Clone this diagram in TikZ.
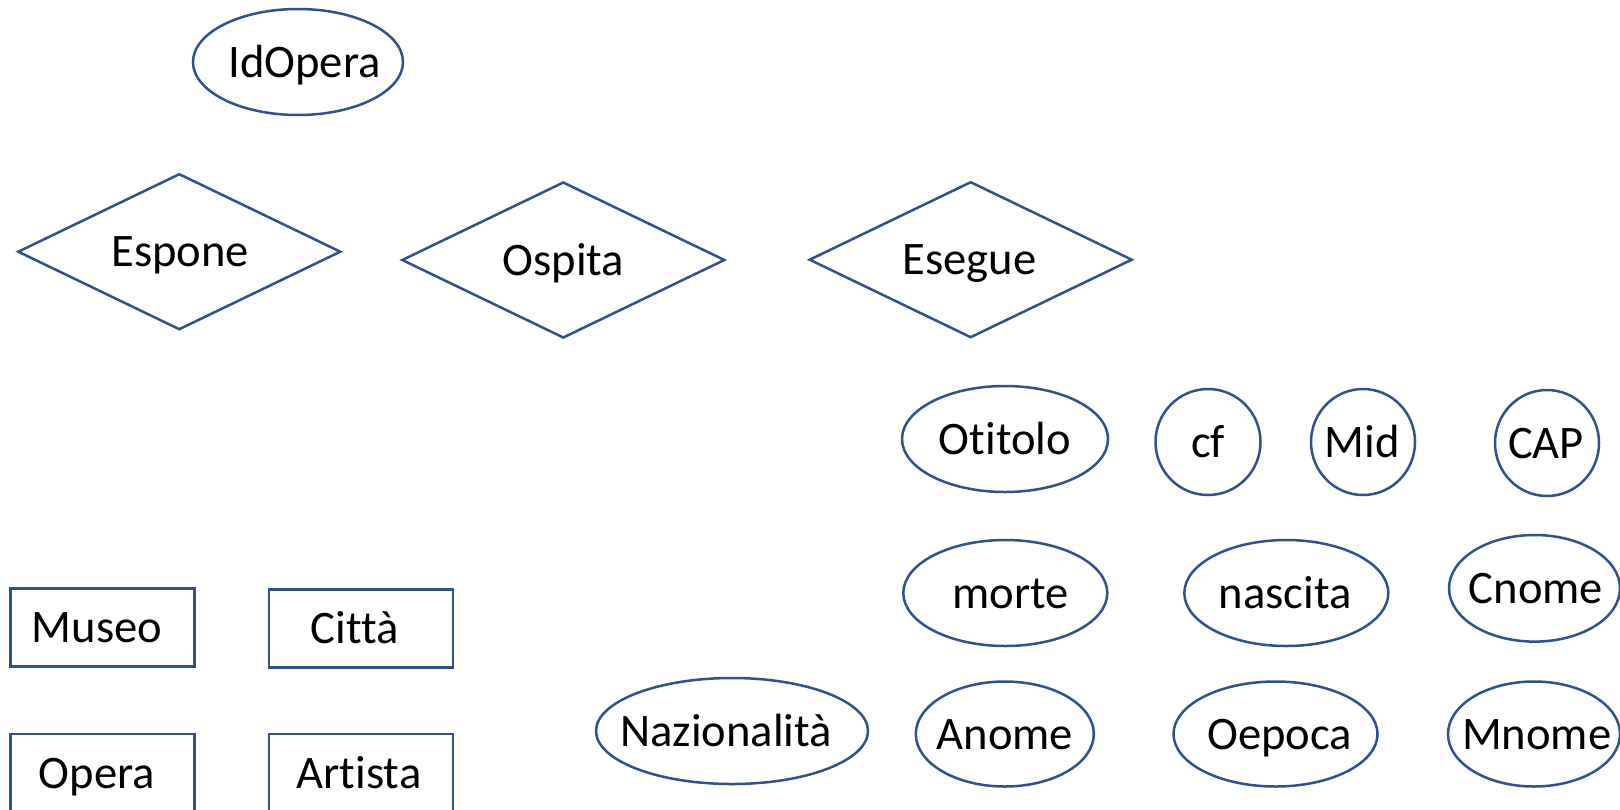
\documentclass[tikz,border=0pt]{standalone}
\usepackage{fontspec}
\setmainfont{Carlito}[Ligatures={NoCommon,NoContextual},Contextuals={NoAlternate}]
\usetikzlibrary{shapes.geometric}
\definecolor{erblue}{HTML}{2F528F}
\newcommand\Tx[2]{\makebox[0pt]{\hspace*{#1pt}#2}}
\tikzset{
  base/.style={draw=erblue, line width=1.25pt, inner sep=0pt, outer sep=0pt,
    text height=15pt, text depth=0pt, font=\fontsize{23.3pt}{28pt}\selectfont, text=black},
  attr/.style 2 args={base, ellipse, minimum width=#1pt, minimum height=#2pt},
  rel/.style={base, diamond, minimum width=161pt, minimum height=77.5pt},
  ent/.style={base, rectangle, minimum width=92pt, minimum height=39.2pt},
}
\begin{document}
\begin{tikzpicture}[x=0.5pt,y=-0.5pt]
\useasboundingbox (0,0) rectangle (1620,809);
\clip (0,0) rectangle (1620,809);
\fill[white] (0,0) rectangle (1620,809);
% attribute at top
\node[attr={105}{53}] (idopera) at (298,62) {\Tx{6.5}{IdOpera}};
% relationships
\node[rel] (espone) at (179.3,251.7) {\Tx{1}{Espone}};
\node[rel] (ospita) at (563.3,260) {\Tx{0}{Ospita}};
\node[rel] (esegue) at (970.7,259.7) {\Tx{-1}{Esegue}};
% attributes row 1
\node[attr={103}{53}] (otitolo) at (1005,439) {\Tx{0}{Otitolo}};
\node[attr={52.5}{53}] (cf) at (1208,442) {\Tx{0}{cf}};
\node[attr={52}{53}] (mid) at (1363,442) {\Tx{-1}{Mid}};
\node[attr={52}{53}] (cap) at (1547,443) {\Tx{-1}{CAP}};
% attributes row 2
\node[attr={102}{53}] (morte) at (1005.3,593) {\Tx{5.5}{morte}};
\node[attr={102}{53}] (nascita) at (1286.3,593) {\Tx{-1}{nascita}};
\node[attr={85.5}{53.3}] (cnome) at (1534.5,588.3) {\Tx{1.5}{Cnome}};
% attributes row 3
\node[attr={136}{53}] (nazionalita) at (732,731) {\Tx{-6}{Nazionalità}};
\node[attr={89}{52.5}] (anome) at (1004.8,734) {\Tx{0}{Anome}};
\node[attr={102}{52.5}] (oepoca) at (1275.5,734) {\Tx{4}{Oepoca}};
\node[attr={86}{52.5}] (mnome) at (1534,734) {\Tx{2.7}{Mnome}};
% entities
\node[ent] (museo) at (102.5,627.5) {\Tx{-5.5}{Museo}};
\node[ent] (citta) at (361,628.5) {\Tx{-6.5}{Città}};
\node[ent] (opera) at (102.5,773) {\Tx{-5.5}{Opera}};
\node[ent] (artista) at (361,773) {\Tx{-2}{Artista}};
\end{tikzpicture}
\end{document}
